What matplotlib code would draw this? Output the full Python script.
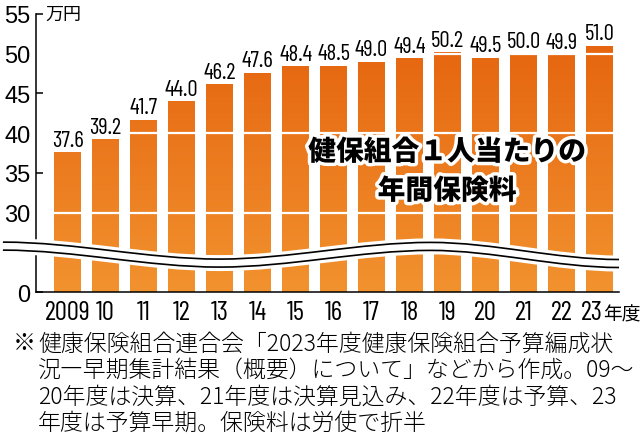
import numpy as np
import matplotlib
matplotlib.use("Agg")
import matplotlib.pyplot as plt
from matplotlib import font_manager
from matplotlib.path import Path
from matplotlib.patches import PathPatch
from matplotlib.colors import LinearSegmentedColormap
import matplotlib.patheffects as pe
import matplotlib.transforms as mtransforms

years = ['2009', '10', '11', '12', '13', '14', '15', '16', '17', '18',
         '19', '20', '21', '22', '23']
premium = [37.6, 39.2, 41.7, 44.0, 46.2, 47.6, 48.4, 48.5, 49.0, 49.4,
           50.2, 49.5, 50.0, 49.9, 51.0]
yticks = [0, 30, 35, 40, 45, 50, 55]
grid_vals = [30, 40, 50]

title = ['健保組合１人当たりの', '年間保険料']
note = ['健康保険組合連合会「2023年度健康保険組合予算編成状',
        '況―早期集計結果（概要）について」などから作成。09～',
        '20年度は決算、21年度は決算見込み、22年度は予算、23',
        '年度は予算早期。保険料は労使で折半']

names = {f.name for f in font_manager.fontManager.ttflist}
NARROW = 'Liberation Sans'
for cand in ['Barlow Condensed', 'Archivo Narrow', 'Roboto Condensed', 'Liberation Sans Narrow']:
    if cand in names:
        NARROW = cand
        break
JP = 'Noto Sans CJK JP'


# broken axis: 0-30 squeezed, 30-55 linear
def fwd(v):
    v = np.asarray(v, dtype=float)
    return np.where(v < 30, v / 3.0, v - 20.0)


def inv(y):
    y = np.asarray(y, dtype=float)
    return np.where(y < 10, y * 3.0, y + 20.0)


W, H = 640, 439
fig = plt.figure(figsize=(W / 100, H / 100), dpi=100)
ax = fig.add_axes([36 / W, 146 / H, 583 / W, 278 / H])
ax.set_yscale('function', functions=(fwd, inv))

x = np.arange(len(years))
bars = ax.bar(x, premium, width=0.71, color='none', edgecolor='none', zorder=2)

cmap = LinearSegmentedColormap.from_list('org', ['#f2922f', '#e4600b'])
grad = np.linspace(0, 1, 256).reshape(-1, 1)
for b in bars:
    im = ax.imshow(grad, cmap=cmap, extent=[0, 1, 0, 1], transform=ax.transAxes,
                   origin='lower', aspect='auto', zorder=2, interpolation='bilinear')
    im.set_clip_path(b)

for g in grid_vals:
    ax.axhline(g, color='white', lw=1.6, zorder=3)

ax.set_xlim(-0.83, 14.51)
ax.set_ylim(0, 55)

# wave break
trans = ax.get_xaxis_transform()
pts = [(-1.7, 0.165), (4.0, 0.104), (9.55, 0.164), (14.51, 0.1025)]
verts = [pts[0]]
codes = [Path.MOVETO]
for (xa, ya), (xb, yb) in zip(pts[:-1], pts[1:]):
    dx = xb - xa
    verts += [(xa + dx / 3, ya), (xa + 2 * dx / 3, yb), (xb, yb)]
    codes += [Path.CURVE4] * 3
wave = Path(verts, codes)
ax.add_patch(PathPatch(wave, fill=False, ec='white', lw=11.5, capstyle='butt',
                       transform=trans, clip_on=False, zorder=5))
for off in (4, -4):
    t = mtransforms.offset_copy(trans, fig=fig, x=0, y=off, units='dots')
    ax.add_patch(PathPatch(wave, fill=False, ec='black', lw=1.2, capstyle='butt',
                           transform=t, clip_on=False, zorder=6))

# axes styling
for s in ['top', 'right']:
    ax.spines[s].set_visible(False)
for s in ['left', 'bottom']:
    ax.spines[s].set_linewidth(1.1)
    ax.spines[s].set_zorder(4)
ax.set_yticks(yticks)
ax.set_yticklabels([str(v) for v in yticks], fontsize=17, family='Liberation Sans')
ax.yaxis.set_minor_locator(matplotlib.ticker.NullLocator())
ax.tick_params(axis='y', direction='in', length=5, width=1.1, pad=4)
ax.set_xticks([])

# x labels
for i, lab in enumerate(years[:-1]):
    ax.annotate(lab, (i, 0), xytext=(0, -19.5), textcoords='offset points',
                ha='center', va='baseline', fontsize=19.5, family=NARROW)
ax.annotate(years[-1], (x[-1], 0), xytext=(2.5, -19.5), textcoords='offset points',
            ha='right', va='baseline', fontsize=19.5, family=NARROW)
ax.annotate('年度', (x[-1], 0), xytext=(2.5, -19.5), textcoords='offset points',
            ha='left', va='baseline', fontsize=13.5, family=JP)

# value labels
for i, v in enumerate(premium):
    ax.annotate(f'{v:.1f}', (i, v), xytext=(0, 1), textcoords='offset points',
                ha='center', va='bottom', fontsize=16.5, family=NARROW)

ax.annotate('万円', (0, 55), xycoords=('axes fraction', 'data'), xytext=(7, 0),
            textcoords='offset points', ha='left', va='center', fontsize=13, family=JP)

for k, line in enumerate(title):
    fig.text(447 / W, 1 - (153 + 39 * k) / H, line, ha='center', va='center',
             fontsize=20, fontweight='heavy', family=JP, zorder=7,
             path_effects=[pe.withStroke(linewidth=5, foreground='white')])

# footnote
fig.text(13 / W, 1 - 344 / H, '※', ha='left', va='center', fontsize=16.5,
         family=JP, fontweight='light')
for k, line in enumerate(note):
    fig.text(38 / W, 1 - (344 + 26.4 * k) / H, line, ha='left', va='center',
             fontsize=16.5, family=JP, fontweight='light')

fig.savefig('out.png', dpi=100)
